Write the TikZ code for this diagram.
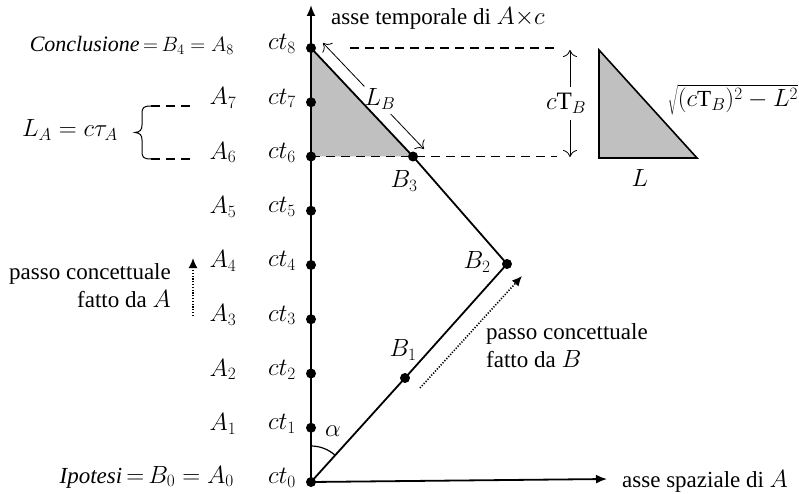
\documentclass[tikz,border=0pt]{standalone}
\usepackage{fontspec}
\setmainfont{Liberation Serif}
\usetikzlibrary{arrows.meta,calc}
\definecolor{tri}{RGB}{192,192,192}
\begin{document}
\begin{tikzpicture}[x=1pt,y=-1pt,
  txt/.style={font=\fontsize{23}{28}\selectfont, inner sep=1pt},
  mlbl/.style={font=\fontsize{25}{28}\selectfont, inner sep=1pt},
  dot/.style={circle, fill=black, inner sep=0pt, minimum size=10pt},
  axis/.style={line width=1.8pt, -{Latex[length=11pt,width=9pt]}},
  path/.style={line width=1.8pt},
  dashline/.style={line width=1.3pt, dash pattern=on 9pt off 6pt},
  openarr/.style={line width=0.8pt, -{To[length=7pt,width=14pt]}},
  dotarr/.style={line width=1.6pt, dash pattern=on 1.2pt off 1.6pt, -{Latex[length=10pt,width=9pt]}}]
\useasboundingbox (0,0) rectangle (799,494);

% coordinates
\foreach \i in {0,...,8} \coordinate (T\i) at (311,{482-54.25*\i});
\coordinate (Ttop) at (311,5);
\coordinate (Xend) at (607,479);
\coordinate (B1) at (405,378);
\coordinate (B2) at (507,264);
\coordinate (B3) at ($(T6)+(102,0)$);
\coordinate (DR8) at ($(T8)+(246,0)$);
\coordinate (DR6) at ($(T6)+(246,0)$);

% grey triangle
\fill[tri] (T8) -- (T6) -- (B3) -- cycle;

% dashed lines
\draw[dashline] ($(T8)+(39,0)$) -- (DR8);
\draw[dashline] (T6) -- (DR6);
\coordinate (LA7a) at (151,106); \coordinate (LA7b) at (194,106);
\coordinate (LA6a) at (151,159); \coordinate (LA6b) at (194,159);
\draw[dashline] (LA7a) -- (LA7b);
\draw[dashline] (LA6a) -- (LA6b);

% brace
\draw[line width=1pt] (LA7a) .. controls (143,106) and (142,108) .. (142,114)
  -- (142,125) .. controls (142,130) and (140,132) .. (135,132.5)
  .. controls (140,133) and (142,135) .. (142,140)
  -- (142,151) .. controls (142,157) and (143,159) .. (LA6a);

% axes
\draw[axis] (T0) -- (Ttop);
\draw[axis] (T0) -- (Xend);

% path of B
\draw[path] (T0) -- (B1) -- (B2) -- (B3) -- (T8);

% dots
\foreach \i in {0,...,8} \node[dot] (D\i) at (T\i) {};
\node[dot] (DB1) at (B1) {};
\node[dot] (DB2) at (B2) {};
\node[dot] (DB3) at (B3) {};

% alpha arc
\draw[line width=1.2pt] ($(T0)+(0,-36)$) arc[start angle=270, end angle=311.8, radius=36];
\node[mlbl] (alpha) at (333,431) {$\alpha$};

% ct labels and A labels
\foreach \i in {0,...,8} \node[mlbl] (ct\i) at ($(T\i)+(-29,-4)$) {$ct_{\i}$};
\foreach \i in {1,...,7} \node[mlbl] (A\i) at ($(T\i)+(-88,-4)$) {$A_{\i}$};
\node[txt, font=\fontsize{22}{26}\selectfont, anchor=east] (concl) at ($(T8)+(-76,-3)$) {\textit{Conclusione}$\,{=}\,B_4 = A_8$};
\node[txt, anchor=east] (ipot) at ($(T0)+(-76,-5)$) {\textit{Ipotesi}$\,{=}\,B_0 = A_0$};

% L_A
\node[mlbl] (LA) at (70,130) {$L_A = c\tau_A$};

% B labels
\node[mlbl] (lB1) at (403,350) {$B_1$};
\node[mlbl] (lB2) at (477,262) {$B_2$};
\node[mlbl] (lB3) at (404,181) {$B_3$};

% L_B double arrow
\coordinate (LBs) at (323,43);
\coordinate (LBe) at (424,149);
\node[mlbl] (LB) at (380,99) {$L_B$};
\draw[openarr] ($(LBs)!0.41!(LBe)$) -- (LBs);
\draw[openarr] ($(LBs)!0.67!(LBe)$) -- (LBe);

% cT_B arrow
\coordinate (cTt) at (570,50);
\coordinate (cTb) at (570,157);
\node[mlbl] (cT) at (566,103) {$c\mathrm{T}_B$};
\draw[openarr] (570,87) -- (cTt);
\draw[openarr] (570,120) -- (cTb);

% right triangle
\coordinate (R1) at (599,50);
\coordinate (R2) at (599,158);
\coordinate (R3) at (697,158);
\draw[fill=tri, line width=1.6pt, line join=miter] (R1) -- (R2) -- (R3) -- cycle;
\node[mlbl] (Llab) at (640,178) {$L$};
\node[txt] (sq) at (733,100) {$\sqrt{(c\mathrm{T}_B)^2 - L^2}$};

% axis labels
\node[txt, anchor=west] (tlab) at (330,18) {asse temporale di $A{\times}c$};
\node[txt, anchor=west] (xlab) at (621,481) {asse spaziale di $A$};

% conceptual steps
\coordinate (dAs) at (193,316);
\coordinate (dAe) at (193,258);
\draw[dotarr] (dAs) -- (dAe);
\node[txt, anchor=east, align=right] (stepA) at (172,286) {passo concettuale\\fatto da $A$};
\coordinate (dBs) at (420,388);
\coordinate (dBe) at (522,276);
\draw[dotarr] (dBs) -- (dBe);
\node[txt, anchor=west, align=left] (stepB) at (485,346) {passo concettuale\\fatto da $B$};
\end{tikzpicture}
\end{document}
